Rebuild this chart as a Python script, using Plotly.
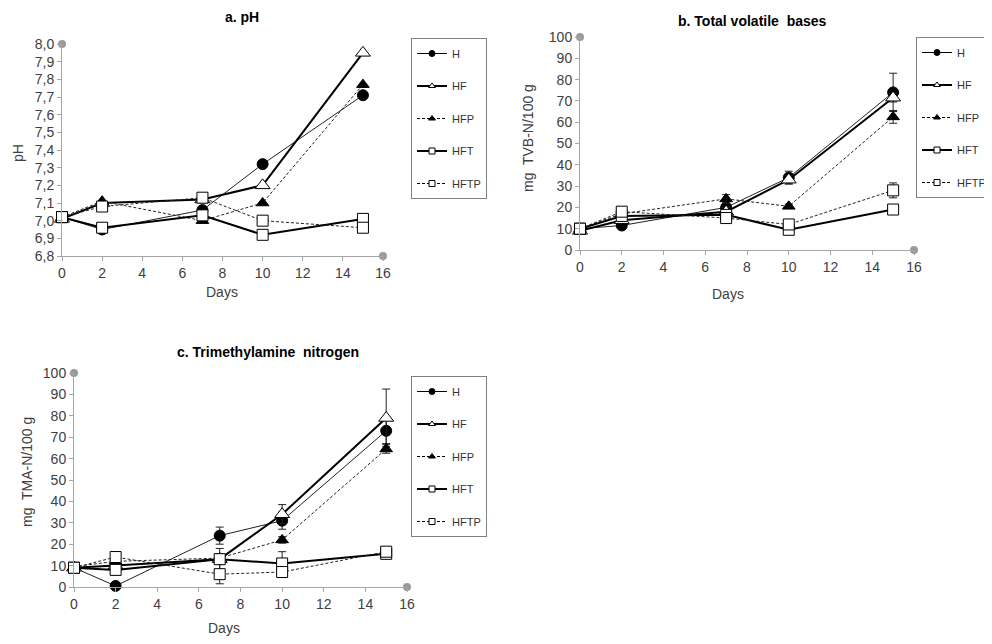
import plotly.graph_objects as go

days = [0, 2, 7, 10, 15]
series = ["H", "HF", "HFP", "HFT", "HFTP"]

# a. pH
ph_H = [7.02, 6.95, 7.06, 7.32, 7.71]
ph_HF = [7.01, 7.10, 7.12, 7.20, 7.95]
ph_HFP = [7.02, 7.11, 7.00, 7.10, 7.77]
ph_HFT = [7.02, 6.96, 7.03, 6.92, 7.01]
ph_HFTP = [7.02, 7.08, 7.13, 7.00, 6.96]

# b. Total volatile bases (mg TVB-N/100 g)
tvb_H = [10, 11.5, 20, 34, 74]
tvb_HF = [9, 14, 18, 33, 71.5]
tvb_HFP = [10, 17, 24, 20.5, 62.5]
tvb_HFT = [10, 16, 16.5, 9.5, 19]
tvb_HFTP = [10, 18, 15, 12, 28]
tvb_err_H = [1, 1, 2, 3, 9]
tvb_err_HF = [1, 1, 2, 2, 2]
tvb_err_HFP = [1, 1, 2, 1, 3]
tvb_err_HFT = [1, 1, 1, 1.5, 1]
tvb_err_HFTP = [1, 1, 1, 1, 3.5]

# c. Trimethylamine nitrogen (mg TMA-N/100 g)
tma_H = [9, 0.5, 24, 31, 73]
tma_HF = [9, 10, 13, 34, 79]
tma_HFP = [9.5, 12, 13.5, 22, 64.5]
tma_HFT = [9, 8, 13, 11, 15.5]
tma_HFTP = [9, 14, 6, 7, 16.5]
tma_err_H = [1, 1, 4, 4, 6]
tma_err_HF = [1, 1, 5, 4.5, 13.5]
tma_err_HFP = [1, 1, 2, 1.5, 2]
tma_err_HFT = [1, 1, 2, 5.5, 2]
tma_err_HFTP = [1, 1.5, 4.5, 2, 2]

# page body has an 8px margin: the figure is drawn 8px in from the top-left
OFF = 8
W, H = 992 - OFF, 644 - OFF
FONT = "Liberation Sans, Arial, sans-serif"
AXIS_GRAY = "#a6a6a6"
TXT = "#404040"

styles = {
    "H":    dict(width=1,   dash="solid",     symbol="circle",      fill="black", size=11, lcolor="#222"),
    "HF":   dict(width=2,   dash="solid",     symbol="triangle-up", fill="white", size=13, lcolor="black"),
    "HFP":  dict(width=1,   dash="3px,2px",   symbol="triangle-up", fill="black", size=11, lcolor="#222"),
    "HFT":  dict(width=2,   dash="solid",     symbol="square",      fill="white", size=11, lcolor="black"),
    "HFTP": dict(width=1,   dash="3px,2px",   symbol="square",      fill="white", size=11, lcolor="#222"),
}

def px_x(p):
    return (p - OFF) / W

def px_y(p):
    return 1 - (p - OFF) / H

fig = go.Figure()

panels = [
    dict(key="", vals=[ph_H, ph_HF, ph_HFP, ph_HFT, ph_HFTP], errs=None,
         legend="legend"),
    dict(key="2", vals=[tvb_H, tvb_HF, tvb_HFP, tvb_HFT, tvb_HFTP],
         errs=[tvb_err_H, tvb_err_HF, tvb_err_HFP, tvb_err_HFT, tvb_err_HFTP],
         legend="legend2"),
    dict(key="3", vals=[tma_H, tma_HF, tma_HFP, tma_HFT, tma_HFTP],
         errs=[tma_err_H, tma_err_HF, tma_err_HFP, tma_err_HFT, tma_err_HFTP],
         legend="legend3"),
]

yranges = [[6.8, 8.0], [0, 100], [0, 100]]

for pi, p in enumerate(panels):
    xa = "x" + p["key"]
    ya = "y" + p["key"]
    for si, name in enumerate(series):
        st = styles[name]
        err = None
        if p["errs"] is not None:
            err = dict(type="data", array=p["errs"][si], visible=True,
                       color="#222", thickness=1, width=4)
        fig.add_trace(go.Scatter(
            x=days, y=p["vals"][si], xaxis=xa, yaxis=ya, mode="lines+markers",
            name=name, showlegend=False, legendgroup=f"{pi}-{name}",
            line=dict(color=st["lcolor"], width=st["width"], dash=st["dash"]),
            marker=dict(symbol=st["symbol"], size=st["size"], color=st["fill"],
                        line=dict(color="black", width=1)),
            error_y=err, cliponaxis=False,
        ))
    # legend-only entries with small markers
    for si, name in enumerate(series):
        st = styles[name]
        fig.add_trace(go.Scatter(
            x=[None], y=[None], xaxis=xa, yaxis=ya, mode="lines+markers",
            name=name, showlegend=True, legend=p["legend"],
            legendgroup=f"{pi}-{name}",
            line=dict(color="black", width=st["width"], dash=st["dash"]),
            marker=dict(symbol=st["symbol"], size=6,
                        color=st["fill"], line=dict(color="black", width=1)),
        ))
    # gray end dots of the axes
    fig.add_trace(go.Scatter(
        x=[0, 16], y=[yranges[pi][1], yranges[pi][0]], xaxis=xa, yaxis=ya,
        mode="markers", showlegend=False, cliponaxis=False,
        marker=dict(color="#9a9a9a", size=8), hoverinfo="skip",
    ))

def xaxis(domain, anchor):
    return dict(domain=domain, anchor=anchor, range=[0, 16], dtick=2, tick0=0,
                showline=True, linecolor=AXIS_GRAY, linewidth=1, ticks="outside",
                ticklen=4, tickcolor=AXIS_GRAY, showgrid=False, zeroline=False,
                tickfont=dict(family=FONT, size=14, color=TXT))

def yaxis(domain, anchor, rng, dtick, fmt):
    return dict(domain=domain, anchor=anchor, range=rng, dtick=dtick, tick0=rng[0],
                tickformat=fmt,
                showline=True, linecolor=AXIS_GRAY, linewidth=1, ticks="outside",
                ticklen=4, tickcolor=AXIS_GRAY, showgrid=False, zeroline=False,
                tickfont=dict(family=FONT, size=14, color=TXT))

legend_common = dict(bgcolor="white", bordercolor="#808080", borderwidth=1,
                     font=dict(family=FONT, size=11, color="#333"),
                     xanchor="left", yanchor="top", traceorder="grouped",
                     tracegroupgap=13.5)

fig.update_layout(
    width=W, height=H, paper_bgcolor="white", plot_bgcolor="white",
    margin=dict(l=0, r=0, t=0, b=0, autoexpand=False),
    separators=", ",
    font=dict(family=FONT, color=TXT),
    xaxis=xaxis([px_x(62), px_x(383)], "y"),
    yaxis=yaxis([px_y(256), px_y(44)], "x", [6.8, 8.0], 0.1, ".1f"),
    xaxis2=xaxis([px_x(580), px_x(914)], "y2"),
    yaxis2=yaxis([px_y(250), px_y(37)], "x2", [0, 100], 10, "d"),
    xaxis3=xaxis([px_x(74), px_x(407)], "y3"),
    yaxis3=yaxis([px_y(587), px_y(373)], "x3", [0, 100], 10, "d"),
    legend=dict(x=px_x(411), y=px_y(38), **legend_common),
    legend2=dict(x=px_x(916), y=px_y(37), **legend_common),
    legend3=dict(x=px_x(411), y=px_y(376), **legend_common),
    showlegend=True,
)

annots = [
    dict(text="<b>a. pH</b>", x=242, y=17, size=14, angle=0),
    dict(text="<b>b. Total volatile  bases</b>", x=752, y=21, size=14, angle=0),
    dict(text="<b>c. Trimethylamine  nitrogen</b>", x=268, y=352, size=14, angle=0),
    dict(text="Days", x=222, y=292, size=14, angle=0),
    dict(text="Days", x=728, y=294, size=14, angle=0),
    dict(text="Days", x=224, y=628, size=14, angle=0),
    dict(text="pH", x=18, y=153, size=14, angle=-90),
    dict(text="mg  TVB-N/100 g", x=528, y=138, size=14, angle=-90),
    dict(text="mg  TMA-N/100 g", x=27, y=472, size=14, angle=-90),
]
for a in annots:
    fig.add_annotation(text=a["text"], x=px_x(a["x"]), y=px_y(a["y"]),
                       xref="paper", yref="paper", showarrow=False,
                       xanchor="center", yanchor="middle", textangle=a["angle"],
                       font=dict(family=FONT, size=a["size"], color="black" if "<b>" in a["text"] else TXT))

fig.write_html("out.html")
